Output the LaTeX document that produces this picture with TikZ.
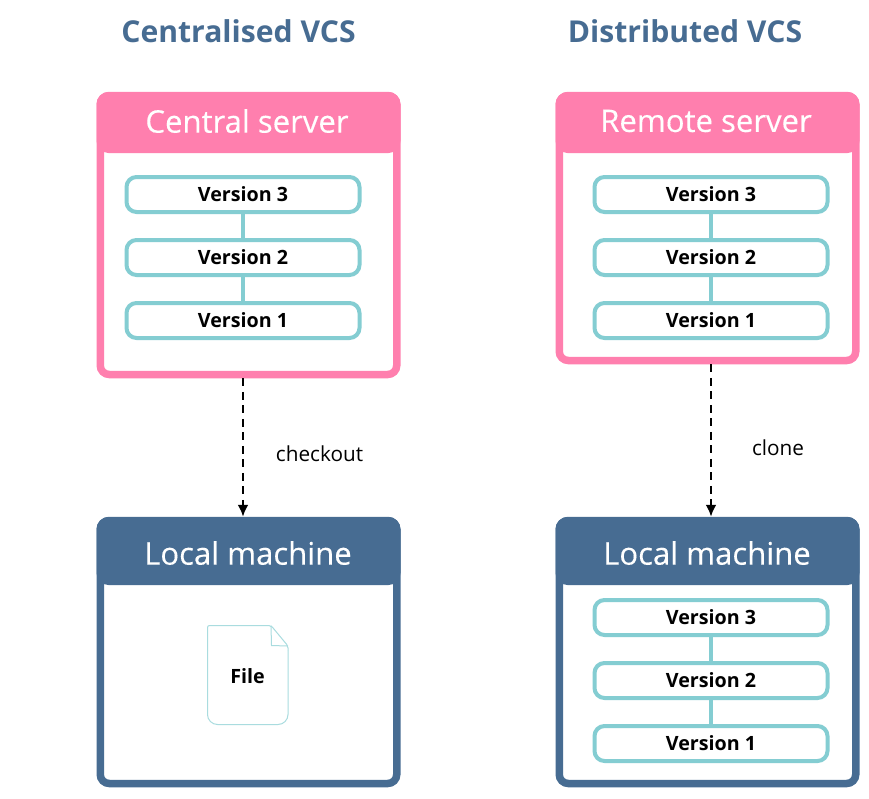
\documentclass[tikz,border=0pt]{standalone}
\usepackage{fontspec}
\setmainfont{Open Sans}
\newfontfamily\headfont[FakeBold=0.25]{Open Sans}
\usetikzlibrary{arrows.meta}

\definecolor{srvpink}{HTML}{FF7FAE}
\definecolor{locblue}{HTML}{476C92}
\definecolor{vteal}{HTML}{84CDD2}

\tikzset{
  panel/.style={draw=#1, line width=7.5*0.02cm, rounded corners=0.18cm, fill=white, inner sep=0pt, minimum width=296.5*0.02cm},
  header/.style={fill=#1, rounded corners=0.24cm, inner sep=0pt, minimum width=304*0.02cm},
  headtext/.style={text=white, font=\fontsize{17.7}{20}\headfont},
  verbox/.style={draw=vteal, line width=4*0.02cm, rounded corners=0.2cm, fill=white, inner sep=0pt, minimum width=233*0.02cm, minimum height=35*0.02cm, font=\fontsize{11.2}{13}\selectfont\bfseries},
  vlink/.style={draw=vteal, line width=4*0.02cm},
  filepage/.style={draw=vteal!70, line width=1*0.02cm},
  title/.style={text=locblue, font=\fontsize{17.15}{20}\selectfont\bfseries},
  getlink/.style={dash pattern=on 8*0.02cm off 5.5*0.02cm, line width=2.5*0.02cm, -{Latex[length=12*0.02cm,width=11*0.02cm]}},
  action/.style={font=\fontsize{11.8}{14}\selectfont},
}

\begin{document}
\begin{tikzpicture}[x=0.02cm,y=-0.02cm]
\useasboundingbox (0,0) rectangle (869,798);

\node[title] (titlecen) at (238.5,31) {Centralised VCS};
\node[title] (titledis) at (685,31) {Distributed VCS};

% left column
\node[panel=srvpink, minimum height=279*0.02cm] (censrv) at (248.5,235) {};
\node[header=srvpink, minimum height=61*0.02cm] (censrvhead) at (248.5,122.5) {};
\node[headtext] (censrvtext) at (247,121) {Central server};

\node[verbox] (cenv3) at (243,194.5) {Version 3};
\node[verbox] (cenv2) at (243,257.5) {Version 2};
\node[verbox] (cenv1) at (243,320.5) {Version 1};
\draw[vlink] (cenv3) -- (cenv2);
\draw[vlink] (cenv2) -- (cenv1);

\node[panel=locblue, minimum height=263*0.02cm] (cenloc) at (248.5,652) {};
\node[header=locblue, minimum height=68*0.02cm] (cenlochead) at (248.5,551) {};
\node[headtext] (cenloctext) at (248,553) {Local machine};

\draw[filepage, rounded corners=0.2cm] (207.5,650) -- (207.5,724.5) -- (288,724.5) -- (288,650);
\draw[filepage, rounded corners=0.04cm] (207.5,650) -- (207.5,625.5) -- (271,625.5) -- (288,646) -- (288,650);
\draw[filepage] (271,625.5) -- (271.5,645.5) -- (288,646);
\node[font=\fontsize{11.2}{13}\selectfont\bfseries] (cenfile) at (247.5,676) {File};

\draw[getlink] (cenv1 |- censrv.south) -- (cenv1 |- cenloc.north);
\node[action] (checkout) at (319.5,454) {checkout};

% right column
\node[panel=srvpink, minimum height=265*0.02cm] (remsrv) at (707.5,228) {};
\node[header=srvpink, minimum height=61*0.02cm] (remsrvhead) at (707.5,122.5) {};
\node[headtext] (remsrvtext) at (706,121) {Remote server};

\node[verbox] (remv3) at (711,194.5) {Version 3};
\node[verbox] (remv2) at (711,257.5) {Version 2};
\node[verbox] (remv1) at (711,320.5) {Version 1};
\draw[vlink] (remv3) -- (remv2);
\draw[vlink] (remv2) -- (remv1);

\node[panel=locblue, minimum height=263*0.02cm] (disloc) at (707.5,652) {};
\node[header=locblue, minimum height=68*0.02cm] (dislochead) at (707.5,551) {};
\node[headtext] (disloctext) at (707,553) {Local machine};

\node[verbox] (disv3) at (711,617.5) {Version 3};
\node[verbox] (disv2) at (711,680.5) {Version 2};
\node[verbox] (disv1) at (711,743.5) {Version 1};
\draw[vlink] (disv3) -- (disv2);
\draw[vlink] (disv2) -- (disv1);

\draw[getlink] (remv1 |- remsrv.south) -- (remv1 |- disloc.north);
\node[action] (clone) at (778,448) {clone};

\end{tikzpicture}
\end{document}
